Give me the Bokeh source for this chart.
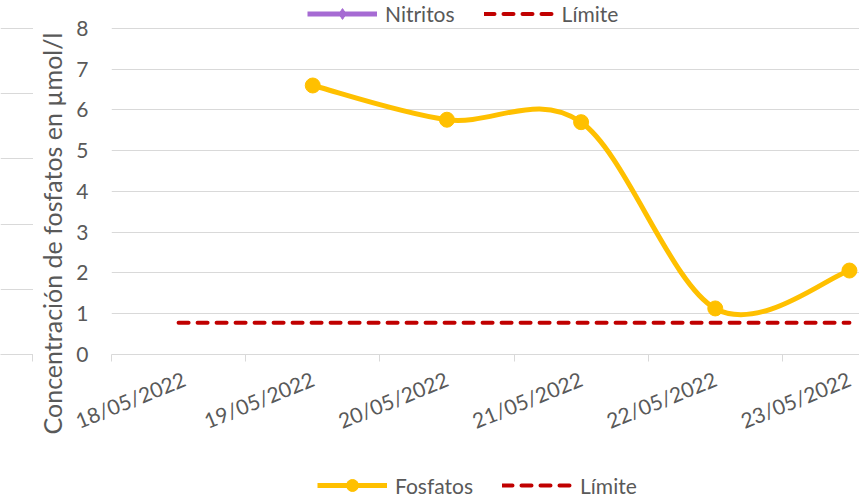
import math
from bokeh.plotting import figure
from bokeh.models import Range1d, FixedTicker, Legend, LegendItem, Label, ColumnDataSource
from bokeh.layouts import row, column
from bokeh.embed import file_html
from bokeh.resources import INLINE

# ---------------- data ----------------
dates = ["18/05/2022", "19/05/2022", "20/05/2022", "21/05/2022", "22/05/2022", "23/05/2022"]
fosfatos_pos = [1, 2, 3, 4, 5]            # category index of each Fosfatos value
fosfatos = [6.6, 5.76, 5.7, 1.13, 2.06]
limite_pos = [0, 1, 2, 3, 4, 5]
limite = [0.78, 0.78, 0.78, 0.78, 0.78, 0.78]
nitritos_pos = [float("nan")]             # Nitritos: no values shown (legend only)
nitritos = [float("nan")]
y_ticks = [0, 1, 2, 3, 4, 5, 6, 7, 8]
y_title = "Concentración de fosfatos en µmol/l"

FONT = "Lato"
TXT = "#595959"
GRID = "#D9D9D9"
YELLOW = "#FFC000"
RED = "#C00000"
PURPLE = "#A66BD3"

W = 859
MID_H = 447          # height of the chart row
BOT_H = 50           # height of the bottom legend strip
FRAME_H = 355        # frame reaches from the top of the page to the x axis
PLOT_H = 327         # pixels between value 0 and value 8
NAN = [float("nan")]


def bare(width, height, xr, yr):
    f = figure(width=width, height=height, x_range=xr, y_range=yr,
               output_backend="svg", toolbar_location=None,
               x_axis_location=None, y_axis_location=None, min_border=0)
    f.outline_line_color = None
    f.grid.visible = False
    return f


def make_legend(items, loc, gh):
    return Legend(items=items, location=loc, orientation="horizontal",
                  glyph_width=70, glyph_height=gh, label_standoff=8, spacing=29,
                  padding=0, margin=0, border_line_color=None, background_fill_alpha=0,
                  label_text_font=FONT, label_text_font_size="21px", label_text_color=TXT,
                  label_height=gh)


# ---------------- left fragment (grid of a background chart) ----------------
q_ticks = [0, 1, 2, 3, 4, 5]
q = figure(width=33, height=MID_H, x_range=Range1d(0, 1.02),
           y_range=Range1d(0, q_ticks[-1] * FRAME_H / PLOT_H),
           output_backend="svg", toolbar_location=None, y_axis_location=None,
           min_border_left=0, min_border_right=0, min_border_top=0,
           min_border_bottom=MID_H - FRAME_H)
q.outline_line_color = None
q.xgrid.visible = False
q.ygrid.ticker = FixedTicker(ticks=q_ticks)
q.ygrid.grid_line_color = GRID
q.xaxis.ticker = FixedTicker(ticks=[], minor_ticks=[1])
q.xaxis.axis_line_color = GRID
q.xaxis.major_tick_line_color = None
q.xaxis.minor_tick_line_color = GRID
q.xaxis.minor_tick_out = 7
q.xaxis.minor_tick_in = 0
q.scatter(x=NAN, y=NAN)

# ---------------- y-axis title strip ----------------
r = bare(38, MID_H, Range1d(0, 38), Range1d(0, MID_H))
r.frame_align = False
r.scatter(x=NAN, y=NAN)
r.add_layout(Label(x=18, y=MID_H - 233, text=y_title, angle=math.pi / 2,
                   text_align="center", text_baseline="middle",
                   text_font=FONT, text_font_size="25px", text_color=TXT))

# ---------------- main chart ----------------
p = figure(width=W - 33 - 38, height=MID_H, x_range=Range1d(-0.5, 5.075),
           y_range=Range1d(0, y_ticks[-1] * FRAME_H / PLOT_H),
           output_backend="svg", toolbar_location=None,
           min_border_left=40, min_border_right=0, min_border_top=0,
           min_border_bottom=MID_H - FRAME_H)
p.outline_line_color = None
p.xgrid.visible = False
p.ygrid.ticker = FixedTicker(ticks=y_ticks)
p.ygrid.grid_line_color = GRID
p.ygrid.grid_line_width = 1

ya = p.yaxis[0]
ya.ticker = FixedTicker(ticks=y_ticks)
ya.axis_line_color = None
ya.major_tick_line_color = None
ya.minor_tick_line_color = None
ya.major_tick_out = 0
ya.major_tick_in = 0
ya.major_label_standoff = 23
ya.major_label_text_font = FONT
ya.major_label_text_font_size = "21px"
ya.major_label_text_color = TXT

xa = p.xaxis[0]
xa.ticker = FixedTicker(ticks=list(range(len(dates))),
                        minor_ticks=[i - 0.5 for i in range(len(dates))])
xa.major_label_overrides = {i: d for i, d in enumerate(dates)}
xa.axis_line_color = GRID
xa.major_tick_line_color = None
xa.major_tick_out = 0
xa.major_tick_in = 0
xa.minor_tick_line_color = GRID
xa.minor_tick_out = 7
xa.minor_tick_in = 0
xa.major_label_orientation = math.radians(22)
xa.major_label_standoff = 16
xa.major_label_text_font = FONT
xa.major_label_text_font_size = "21px"
xa.major_label_text_color = TXT

# limit line
lim = p.line(limite_pos, limite, line_color=RED, line_width=4, line_dash="10 9", line_cap="round")

# smoothed Fosfatos line (cubic bezier through the data points)
n = len(fosfatos)
bx0, by0, bx1, by1, bcx0, bcy0, bcx1, bcy1 = [], [], [], [], [], [], [], []
for i in range(n - 1):
    im = max(i - 1, 0)
    ip = min(i + 2, n - 1)
    bx0.append(fosfatos_pos[i]); by0.append(fosfatos[i])
    bx1.append(fosfatos_pos[i + 1]); by1.append(fosfatos[i + 1])
    bcx0.append(fosfatos_pos[i] + (fosfatos_pos[i + 1] - fosfatos_pos[im]) / 6)
    bcy0.append(fosfatos[i] + (fosfatos[i + 1] - fosfatos[im]) / 6)
    bcx1.append(fosfatos_pos[i + 1] - (fosfatos_pos[ip] - fosfatos_pos[i]) / 6)
    bcy1.append(fosfatos[i + 1] - (fosfatos[ip] - fosfatos[i]) / 6)
bsrc = ColumnDataSource(dict(x0=bx0, y0=by0, x1=bx1, y1=by1, cx0=bcx0, cy0=bcy0, cx1=bcx1, cy1=bcy1))
p.bezier(x0="x0", y0="y0", x1="x1", y1="y1", cx0="cx0", cy0="cy0", cx1="cx1", cy1="cy1",
         source=bsrc, line_color=YELLOW, line_width=5)
p.scatter(fosfatos_pos, fosfatos, size=15, marker="circle", fill_color=YELLOW, line_color=YELLOW)

# Nitritos series (no values) and the top legend, inside the upper part of the frame
nit_line = p.line(x=nitritos_pos, y=nitritos, line_color=PURPLE, line_width=5)
nit_pts = p.scatter(x=nitritos_pos, y=nitritos, marker="diamond", size=14,
                    fill_color=PURPLE, line_color=PURPLE)
p.add_layout(make_legend([LegendItem(label="Nitritos", renderers=[nit_line, nit_pts]),
                          LegendItem(label="Límite", renderers=[lim])], (196, FRAME_H - 28), 27))

# ---------------- bottom legend strip ----------------
B = bare(W, BOT_H, Range1d(0, W), Range1d(0, BOT_H))
b_fos_line = B.line(x=NAN, y=NAN, line_color=YELLOW, line_width=5)
b_fos_pts = B.scatter(x=NAN, y=NAN, marker="circle", size=15, fill_color=YELLOW, line_color=YELLOW)
b_lim = B.line(x=NAN, y=NAN, line_color=RED, line_width=4, line_dash="10 9", line_cap="round")
B.add_layout(make_legend([LegendItem(label="Fosfatos", renderers=[b_fos_line, b_fos_pts]),
                          LegendItem(label="Límite", renderers=[b_lim])], (317, -3), 30))

layout = column(row(q, r, p), B)
open("out.html", "w").write(file_html(layout, INLINE))
